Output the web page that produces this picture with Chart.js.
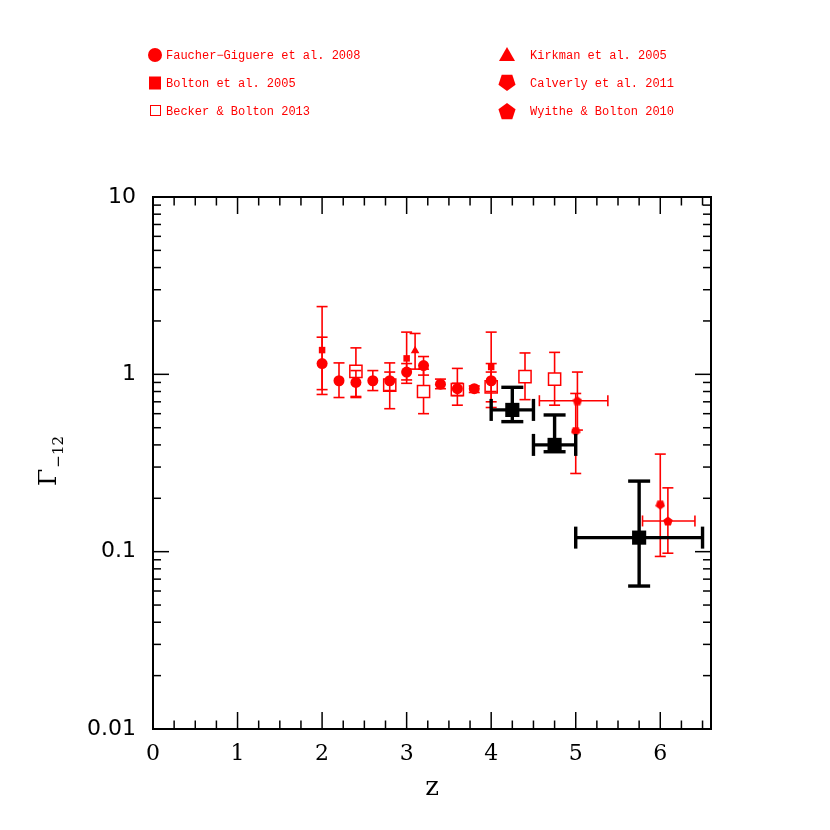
<!DOCTYPE html>
<html><head><meta charset="utf-8">
<script src="https://cdn.jsdelivr.net/npm/chart.js@4.4.1/dist/chart.umd.min.js"></script>
<style>html,body{margin:0;padding:0;background:#fff}#c{display:block}</style>
</head><body>
<canvas id="c" width="830" height="830"></canvas>
<script>
// ---- axis ticks ----
const xTickValues = [0, 1, 2, 3, 4, 5, 6];
const xTickLabels = ['0', '1', '2', '3', '4', '5', '6'];
const yTickValues = [0.01, 0.1, 1, 10];
const yTickLabels = ['0.01', '0.1', '1', '10'];

// ---- legend names ----
const seriesNames = ['Faucher\u2212Giguere et al. 2008', 'Bolton et al. 2005', 'Becker & Bolton 2013',
                     'Kirkman et al. 2005', 'Calverly et al. 2011', 'Wyithe & Bolton 2010'];

// ---- Faucher-Giguere et al. 2008 ----
const fgZ  = [2.0, 2.2, 2.4, 2.6, 2.8, 3.0, 3.2, 3.4, 3.6, 3.8, 4.0];
const fgG  = [1.15, 0.92, 0.90, 0.92, 0.92, 1.03, 1.12, 0.88, 0.83, 0.83, 0.92];
const fgHi = [1.62, 1.16, 1.05, 1.05, 1.03, 1.15, 1.26, 0.94, 0.89, 0.86, 1.15];
const fgLo = [0.82, 0.74, 0.74, 0.81, 0.81, 0.93, 0.99, 0.83, 0.76, 0.79, 0.70];

// ---- Bolton et al. 2005 ----
const boZ  = [2.0, 3.0, 4.0];
const boG  = [1.37, 1.23, 1.10];
const boHi = [2.41, 1.73, 1.73];
const boLo = [0.77, 0.89, 0.80];

// ---- Becker & Bolton 2013 ----
const bbZ  = [2.4, 2.8, 3.2, 3.6, 4.0, 4.4, 4.75];
const bbG  = [1.04, 0.87, 0.80, 0.82, 0.85, 0.97, 0.94];
const bbHi = [1.41, 1.16, 1.07, 1.08, 1.03, 1.32, 1.33];
const bbLo = [0.75, 0.64, 0.60, 0.67, 0.65, 0.72, 0.67];

// ---- Kirkman et al. 2005 ----
const kiZ  = [3.1];
const kiG  = [1.36];
const kiHi = [1.70];
const kiLo = [1.07];

// ---- Calverley et al. 2011 ----
const caZ  = [5.0, 6.0];
const caG  = [0.476, 0.183];
const caHi = [0.78, 0.355];
const caLo = [0.276, 0.094];

// ---- Wyithe & Bolton 2010 ----
const wbZ   = [5.02, 6.09];
const wbZlo = [4.57, 5.79];
const wbZhi = [5.38, 6.41];
const wbG   = [0.71, 0.149];
const wbHi  = [1.03, 0.229];
const wbLo  = [0.485, 0.098];

// ---- this work (black) ----
const twZ   = [4.25, 4.75, 5.75];
const twZlo = [4.0, 4.5, 5.0];
const twZhi = [4.5, 5.0, 6.5];
const twG   = [0.63, 0.40, 0.12];
const twHi  = [0.845, 0.59, 0.25];
const twLo  = [0.541, 0.366, 0.064];

const RED = '#ff0000';

function pts(z, g, hi, lo, zlo, zhi) {
  return z.map((v, i) => ({x: v, y: g[i], yHi: hi[i], yLo: lo[i],
    xLo: zlo ? zlo[i] : null, xHi: zhi ? zhi[i] : null}));
}

function pentagon(size, pointUp, color) {
  const c = document.createElement('canvas');
  c.width = size; c.height = size;
  const g = c.getContext('2d');
  const r = size / 2, cx = size / 2, cy = size / 2 + (pointUp ? 0.5 : -0.5);
  g.fillStyle = color;
  g.beginPath();
  for (let k = 0; k < 5; k++) {
    const a = (pointUp ? -Math.PI / 2 : Math.PI / 2) + k * 2 * Math.PI / 5;
    const px = cx + r * Math.cos(a), py = cy + r * Math.sin(a);
    if (k === 0) g.moveTo(px, py); else g.lineTo(px, py);
  }
  g.closePath(); g.fill();
  return c;
}
function drawPent(ctx, x, y, r, pointUp) {
  ctx.beginPath();
  for (let k = 0; k < 5; k++) {
    const a = (pointUp ? -Math.PI / 2 : Math.PI / 2) + k * 2 * Math.PI / 5;
    const px = x + r * Math.cos(a), py = y + r * Math.sin(a);
    if (k === 0) ctx.moveTo(px, py); else ctx.lineTo(px, py);
  }
  ctx.closePath(); ctx.fill();
}

const datasets = [
  {label: 'this work', data: pts(twZ, twG, twHi, twLo, twZlo, twZhi), pointStyle: 'rect', pointRadius: 10,
   backgroundColor: '#000', borderWidth: 0, errorBar: {color: '#000', width: 3.4, cap: 11}},
  {label: seriesNames[0], data: pts(fgZ, fgG, fgHi, fgLo), pointStyle: 'circle', pointRadius: 5.5,
   backgroundColor: RED, borderWidth: 0, errorBar: {color: RED, width: 1.6, cap: 5.5}},
  {label: seriesNames[1], data: pts(boZ, boG, boHi, boLo), pointStyle: 'rect', pointRadius: 4.6,
   backgroundColor: RED, borderWidth: 0, errorBar: {color: RED, width: 1.6, cap: 5.5}},
  {label: seriesNames[3], data: pts(kiZ, kiG, kiHi, kiLo), pointStyle: 'triangle', pointRadius: 5,
   backgroundColor: RED, borderWidth: 0, errorBar: {color: RED, width: 1.6, cap: 5.5}},
  {label: seriesNames[4], data: pts(caZ, caG, caHi, caLo), pointStyle: pentagon(10, false, RED), pointRadius: 5,
   backgroundColor: RED, borderWidth: 0, errorBar: {color: RED, width: 1.6, cap: 5.5}},
  {label: seriesNames[5], data: pts(wbZ, wbG, wbHi, wbLo, wbZlo, wbZhi), pointStyle: pentagon(10, true, RED), pointRadius: 5,
   backgroundColor: RED, borderWidth: 0, errorBar: {color: RED, width: 1.6, cap: 5.5}},
  {label: seriesNames[2], data: pts(bbZ, bbG, bbHi, bbLo), pointStyle: 'rect', pointRadius: 8.6,
   backgroundColor: '#fff', borderColor: RED, borderWidth: 1.5, errorBar: {color: RED, width: 1.6, cap: 5.5}}
];

const errorBars = {
  id: 'errorBars',
  beforeDatasetDraw(chart, args) {
    const ds = chart.data.datasets[args.index];
    const eb = ds.errorBar; if (!eb) return;
    const xs = chart.scales.x, ys = chart.scales.y, ctx = chart.ctx;
    ctx.save();
    ctx.strokeStyle = eb.color; ctx.lineWidth = eb.width; ctx.lineCap = 'butt';
    const seg = (a, b, c, d) => { ctx.beginPath(); ctx.moveTo(a, b); ctx.lineTo(c, d); ctx.stroke(); };
    ds.data.forEach(p => {
      const px = xs.getPixelForValue(p.x), py = ys.getPixelForValue(p.y);
      if (p.yHi != null) {
        const t = ys.getPixelForValue(p.yHi), b = ys.getPixelForValue(p.yLo);
        seg(px, t, px, b); seg(px - eb.cap, t, px + eb.cap, t); seg(px - eb.cap, b, px + eb.cap, b);
      }
      if (p.xLo != null) {
        const l = xs.getPixelForValue(p.xLo), r = xs.getPixelForValue(p.xHi);
        seg(l, py, r, py); seg(l, py - eb.cap, l, py + eb.cap); seg(r, py - eb.cap, r, py + eb.cap);
      }
    });
    ctx.restore();
  }
};

const frame = {
  id: 'frame',
  afterDraw(chart) {
    const ctx = chart.ctx, xs = chart.scales.x, ys = chart.scales.y, a = chart.chartArea;
    ctx.save();
    ctx.strokeStyle = '#000'; ctx.lineWidth = 1.5;
    const seg = (p, q, r, s) => { ctx.beginPath(); ctx.moveTo(p, q); ctx.lineTo(r, s); ctx.stroke(); };
    // x ticks (bottom and top)
    for (let i = 0; i * 0.25 <= xs.max + 1e-9; i++) {
      const v = i * 0.25, px = xs.getPixelForValue(v);
      const L = (i % 4 === 0) ? 17 : 8.5;
      seg(px, a.bottom, px, a.bottom - L);
      seg(px, a.top, px, a.top + L);
    }
    // y ticks (left and right)
    for (let d = 0; d < yTickValues.length; d++) {
      const base = yTickValues[d];
      const py = ys.getPixelForValue(base);
      seg(a.left, py, a.left + 16, py); seg(a.right, py, a.right - 16, py);
      if (d < yTickValues.length - 1) {
        for (let k = 2; k <= 9; k++) {
          const q = ys.getPixelForValue(base * k);
          seg(a.left, q, a.left + 8, q); seg(a.right, q, a.right - 8, q);
        }
      }
    }
    ctx.lineWidth = 2;
    ctx.strokeRect(a.left, a.top, a.right - a.left, a.bottom - a.top);

    // axis titles
    ctx.fillStyle = '#000';
    ctx.font = '26px "DejaVu Serif"';
    ctx.textAlign = 'center'; ctx.textBaseline = 'alphabetic';
    ctx.fillText('z', (a.left + a.right) / 2, 795);
    ctx.save();
    ctx.translate(56, 486);
    ctx.rotate(-Math.PI / 2);
    ctx.textAlign = 'left';
    ctx.font = '25px "DejaVu Serif"';
    ctx.fillText('\u0393', 0, 0);
    const w = ctx.measureText('\u0393').width;
    ctx.font = '15px "DejaVu Serif"';
    ctx.fillText('\u221212', w + 1, 7);
    ctx.restore();

    // legend
    ctx.fillStyle = RED; ctx.strokeStyle = RED;
    ctx.font = '12px "Liberation Mono"';
    ctx.textAlign = 'left'; ctx.textBaseline = 'middle';
    const rows = [55, 83, 111];
    // column 1
    ctx.beginPath(); ctx.arc(155, rows[0], 7, 0, Math.PI * 2); ctx.fill();
    ctx.fillRect(149, rows[1] - 6.5, 12, 13);
    ctx.lineWidth = 1; ctx.strokeRect(150.5, rows[2] - 5.5, 10, 10);
    ctx.fillText(seriesNames[0], 166, rows[0] + 1);
    ctx.fillText(seriesNames[1], 166, rows[1] + 1);
    ctx.fillText(seriesNames[2], 166, rows[2] + 1);
    // column 2
    ctx.beginPath(); ctx.moveTo(507, rows[0] - 8); ctx.lineTo(515, rows[0] + 6); ctx.lineTo(499, rows[0] + 6); ctx.closePath(); ctx.fill();
    drawPent(ctx, 507, rows[1] - 1, 9, false);
    drawPent(ctx, 507, rows[2] + 1, 9, true);
    ctx.fillText(seriesNames[3], 530, rows[0] + 1);
    ctx.fillText(seriesNames[4], 530, rows[1] + 1);
    ctx.fillText(seriesNames[5], 530, rows[2] + 1);
    ctx.restore();
  }
};

new Chart(document.getElementById('c'), {
  type: 'scatter',
  data: {datasets},
  options: {
    responsive: false, animation: false, devicePixelRatio: 1, events: [],
    layout: {padding: {top: 197, right: 119, left: 0, bottom: 0}},
    plugins: {legend: {display: false}, tooltip: {enabled: false}},
    scales: {
      x: {
        type: 'linear', min: 0, max: 6.6,
        afterBuildTicks: s => { s.ticks = xTickValues.map(v => ({value: v})); },
        afterFit: s => { s.height = 101; },
        ticks: {callback: (v, i) => xTickLabels[i], color: '#000', padding: 12, maxRotation: 0,
                font: {family: 'DejaVu Serif', size: 22}},
        grid: {display: false, drawTicks: false}, border: {display: false}
      },
      y: {
        type: 'logarithmic', min: 0.01, max: 10,
        afterBuildTicks: s => { s.ticks = yTickValues.map(v => ({value: v})); },
        afterFit: s => { s.width = 153; },
        ticks: {callback: (v, i) => yTickLabels[i], color: '#000', padding: 17,
                font: {family: 'DejaVu Sans', size: 22}},
        grid: {display: false, drawTicks: false}, border: {display: false}
      }
    }
  },
  plugins: [errorBars, frame]
});
</script>
</body></html>
